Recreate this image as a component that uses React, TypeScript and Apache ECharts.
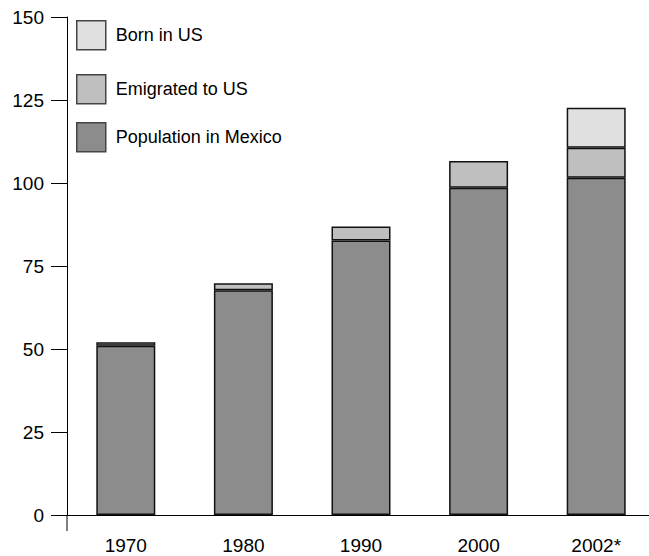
import React, { useEffect, useRef } from "react";
import * as echarts from "echarts";

const categories = ["1970", "1980", "1990", "2000", "2002*"];
const populationInMexico = [51, 67.7, 82.7, 98.6, 101.6];
const emigratedToUS = [1, 2.1, 4.2, 8, 9];
const bornInUS: (number | string)[] = ["-", "-", "-", "-", 12.1];
const yTicks = { min: 0, max: 150, interval: 25 };

const FONT = "'Liberation Sans', Arial, sans-serif";

export default function App() {
  const ref = useRef<HTMLDivElement>(null);
  useEffect(() => {
    if (!ref.current) return;
    const chart = echarts.init(ref.current, undefined, { renderer: "svg" });
    const barBorder = { borderColor: "#111", borderWidth: 1.5 };
    const legendBase = {
      orient: "vertical" as const,
      left: 76,
      padding: 0,
      icon: "rect",
      itemWidth: 29,
      itemHeight: 29,
      itemStyle: { borderColor: "#444", borderWidth: 1.5 },
      textStyle: { fontSize: 18, color: "#000", fontFamily: FONT, padding: [0, 0, 0, 5] },
      selectedMode: false,
    };
    chart.setOption({
      animation: false,
      backgroundColor: "#fff",
      textStyle: { fontFamily: FONT },
      grid: {
        left: 67,
        top: 17,
        width: 588,
        height: 498,
        containLabel: false,
        outerBoundsMode: "none",
      },
      legend: [
        { ...legendBase, top: 20, data: ["Born in US"] },
        { ...legendBase, top: 74, data: ["Emigrated to US"] },
        { ...legendBase, top: 122, data: ["Population in Mexico"] },
      ],
      xAxis: {
        type: "category",
        data: categories,
        axisLine: { show: true, lineStyle: { color: "#000", width: 1 } },
        axisTick: { show: false },
        axisLabel: {
          margin: 21,
          fontSize: 19,
          lineHeight: 19,
          color: "#000",
          fontFamily: FONT,
        },
        splitLine: { show: false },
      },
      yAxis: {
        type: "value",
        min: yTicks.min,
        max: yTicks.max,
        interval: yTicks.interval,
        axisLine: { show: true, lineStyle: { color: "#000", width: 1 } },
        axisTick: { show: true, length: 16, inside: false, lineStyle: { color: "#000", width: 1 } },
        axisLabel: { margin: 23, fontSize: 19, color: "#000", fontFamily: FONT },
        splitLine: { show: false },
      },
      graphic: [
        {
          type: "line",
          shape: { x1: 67, y1: 515, x2: 67, y2: 531 },
          style: { stroke: "#000", lineWidth: 1 },
        },
      ],
      series: [
        {
          name: "Population in Mexico",
          type: "bar",
          stack: "total",
          barWidth: 59,
          data: populationInMexico,
          itemStyle: { color: "#8c8c8c", ...barBorder },
        },
        {
          name: "Emigrated to US",
          type: "bar",
          stack: "total",
          barWidth: 59,
          data: emigratedToUS,
          itemStyle: { color: "#bfbfbf", ...barBorder },
        },
        {
          name: "Born in US",
          type: "bar",
          stack: "total",
          barWidth: 59,
          data: bornInUS,
          itemStyle: { color: "#e0e0e0", ...barBorder },
        },
      ],
    });
    return () => chart.dispose();
  }, []);
  return (
    <div
      ref={ref}
      style={{ position: "fixed", left: 0, top: 0, width: 649, height: 556, background: "#fff" }}
    />
  );
}
